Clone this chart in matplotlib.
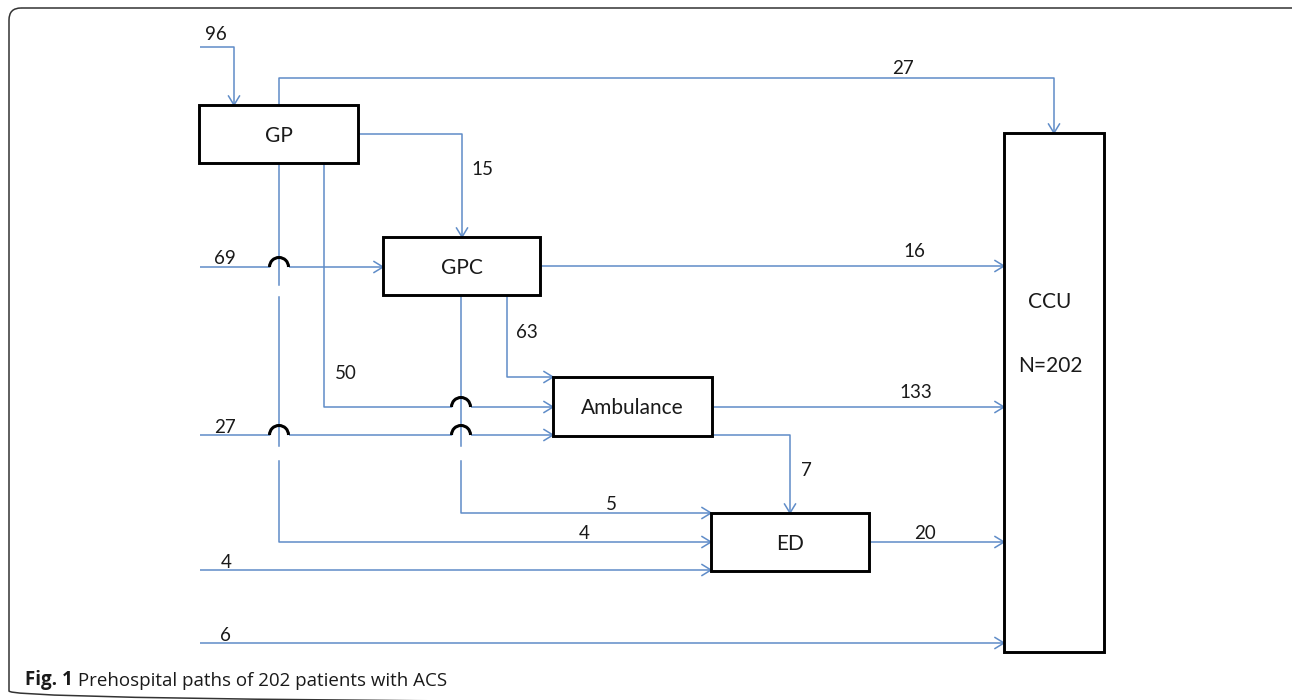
import numpy as np
import matplotlib
matplotlib.use("Agg")
import matplotlib.pyplot as plt
from matplotlib.patches import Rectangle, Arc, FancyBboxPatch

# Datos: nodos y flujos de pacientes (origen -> destino)
node_names = ["GP", "GPC", "Ambulance", "ED", "CCU"]
ccu_label = "N=202"

flow_sources = ["in", "GP", "GP", "in", "GPC", "GPC", "GP", "in",
                "Ambulance", "Ambulance", "GPC", "GP", "in", "ED", "in"]
flow_targets = ["GP", "CCU", "GPC", "GPC", "CCU", "Ambulance", "Ambulance", "Ambulance",
                "CCU", "ED", "ED", "ED", "ED", "CCU", "CCU"]
flow_values = [96, 27, 15, 69, 16, 63, 50, 27, 133, 7, 5, 4, 4, 20, 6]

caption_bold = "Fig. 1"
caption_text = " Prehospital paths of 202 patients with ACS"

# Layout (coordenadas en pixeles, y hacia abajo)
W, H = 1292, 700
box_pos = {
    "GP": (199, 105, 358, 163),
    "GPC": (383, 237, 540, 295),
    "Ambulance": (553, 377, 712, 436),
    "ED": (711, 513, 869, 571),
    "CCU": (1004, 133, 1104, 652),
}
# camino de cada flujo (mismo orden que flow_values)
flow_paths = [
    [(200, 47), (234, 47), (234, 105)],
    [(279, 105), (279, 78), (1054, 78), (1054, 133)],
    [(358, 134), (462, 134), (462, 237)],
    [(200, 267), (383, 267)],
    [(540, 266), (1004, 266)],
    [(507, 295), (507, 377), (553, 377)],
    [(324, 163), (324, 407), (553, 407)],
    [(200, 435), (553, 435)],
    [(712, 407), (1004, 407)],
    [(712, 435), (790, 435), (790, 513)],
    [(461, 295), (461, 513), (711, 513)],
    [(279, 163), (279, 542), (711, 542)],
    [(200, 570), (711, 570)],
    [(869, 542), (1004, 542)],
    [(200, 643), (1004, 643)],
]
# saltos (puentes) sobre el ultimo tramo horizontal
flow_hops = [[], [], [], [279], [], [], [461], [279, 461], [], [], [], [], [], [], []]
# posicion (centro x, linea base y) de cada numero, mismo orden
flow_label_pos = [(216, 40), (903, 74), (482, 175), (225, 264), (914, 257),
                  (527, 338), (346, 379), (225, 433), (916, 398), (806, 476),
                  (611, 510), (584, 539), (226, 568), (925, 539), (225, 641)]
# pequenos cortes blancos en las verticales bajo algunos puentes
gaps = [(279, 287, 294), (279, 448, 458), (461, 448, 458)]

blue = "#5f8cc8"
hop_r = 9.5

plt.rcParams['font.family'] = ['Lato', 'DejaVu Sans']

fig = plt.figure(figsize=(W / 100, H / 100), dpi=100)
ax = fig.add_axes([0, 0, 1, 1])
ax.set_xlim(0, W)
ax.set_ylim(H, 0)
ax.axis("off")

# marco exterior redondeado (el lado derecho queda fuera)
frame = FancyBboxPatch((9, 8), 1310 - 9, 703 - 8,
                       boxstyle="round,pad=0,rounding_size=12",
                       fill=False, ec="#333333", lw=1.1)
ax.add_patch(frame)

# flujos
for path, hops in zip(flow_paths, flow_hops):
    pts = [list(p) for p in path]
    xs, ys = [], []
    for x, y in pts[:-1]:
        xs.append(x); ys.append(y)
    x_end, y_end = pts[-1]
    y_h = pts[-2][1]
    for hx in sorted(hops):
        xs += [hx - hop_r, np.nan, hx + hop_r]
        ys += [y_h, np.nan, y_h]
    xs.append(x_end); ys.append(y_end)
    ax.plot(xs, ys, color=blue, lw=1.1, solid_capstyle="butt", zorder=2)
    for hx in hops:
        ax.add_patch(Arc((hx, y_h), 2 * hop_r, 2 * hop_r, theta1=180, theta2=360,
                         color="black", lw=2.2, zorder=4))
    # punta de flecha abierta
    d = np.array(pts[-1], float) - np.array(pts[-2], float)
    d /= np.linalg.norm(d)
    n = np.array([-d[1], d[0]])
    tip = np.array(pts[-1], float)
    p1 = tip - d * 9 + n * 5.5
    p2 = tip - d * 9 - n * 5.5
    ax.plot([p1[0], tip[0], p2[0]], [p1[1], tip[1], p2[1]], color=blue, lw=1.1, zorder=3)

for gx, g0, g1 in gaps:
    ax.plot([gx, gx], [g0, g1], color="white", lw=2.5, zorder=3)

# etiquetas de flujos
for (lx, ly), v in zip(flow_label_pos, flow_values):
    ax.text(lx, ly, str(v), ha="center", va="baseline", fontsize=13.5, color="#1a1a1a", zorder=5)

# cajas
for name in node_names:
    x0, y0, x1, y1 = box_pos[name]
    ax.add_patch(Rectangle((x0, y0), x1 - x0, y1 - y0, fill=True, fc="white",
                           ec="black", lw=2.1, zorder=6))
    if name != "CCU":
        ax.text((x0 + x1) / 2, (y0 + y1) / 2 + 7.5, name, ha="center", va="baseline",
                fontsize=15, color="#1a1a1a", zorder=7)
ax.text(1050, 308, "CCU", ha="center", va="baseline", fontsize=15, color="#1a1a1a", zorder=7)
ax.text(1050, 372, ccu_label, ha="center", va="baseline", fontsize=15, color="#1a1a1a", zorder=7)

# pie de figura
t = ax.text(25, 685, caption_bold, ha="left", va="baseline", fontsize=13.5,
            fontweight="bold", color="#1a1a1a", family=["Open Sans", "DejaVu Sans"])
ax.annotate(caption_text, xy=(1, 0), xycoords=t, ha="left", va="bottom",
            fontsize=13.5, color="#1a1a1a", family=["Open Sans", "DejaVu Sans"])

fig.savefig("out.png", dpi=100)
